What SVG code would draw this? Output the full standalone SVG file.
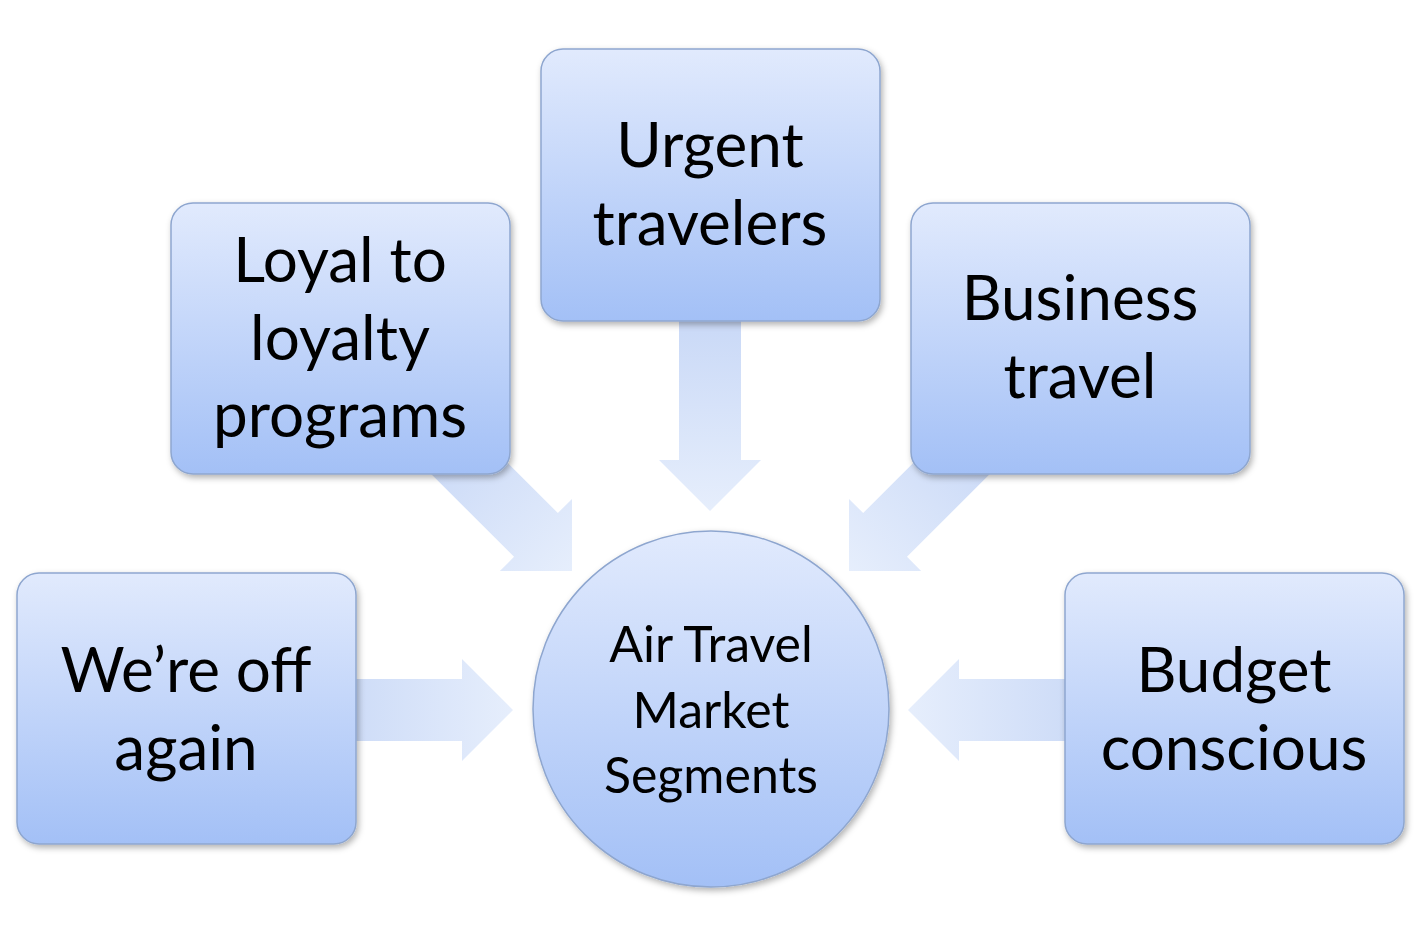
<svg xmlns="http://www.w3.org/2000/svg" width="1426" height="937" viewBox="0 0 1426 937">
<defs>
<linearGradient id="bg" x1="0" y1="0" x2="0" y2="1"><stop offset="0" stop-color="#e1eafd"/><stop offset="1" stop-color="#a3c0f6"/></linearGradient>
<linearGradient id="ag" gradientUnits="userSpaceOnUse" x1="-180" y1="0" x2="0" y2="0"><stop offset="0" stop-color="#cbdaf7"/><stop offset="1" stop-color="#e6eefc"/></linearGradient>
<filter id="sh" x="-10%" y="-10%" width="130%" height="130%"><feDropShadow dx="2" dy="3" stdDeviation="3" flood-color="#000" flood-opacity="0.3"/></filter>
<path id="arr" d="M0,0 L-51,-51 L-51,-31 L-200,-31 L-200,31 L-51,31 L-51,51 Z"/>
</defs>
<style>
.box{fill:url(#bg);stroke:#8ea6cf;stroke-width:1.5;filter:url(#sh)}
.a{fill:url(#ag)}
text{font-family:Lato,"Open Sans",sans-serif;font-size:62px;fill:#000;text-anchor:middle}
.c{font-size:50px}
</style>
<rect width="1426" height="937" fill="#fff"/>
<g id="connectors">
<use href="#arr" class="a" transform="translate(710,511) rotate(90)"/>
<use href="#arr" class="a" transform="translate(572,571) rotate(45)"/>
<use href="#arr" class="a" transform="translate(849,571) rotate(135)"/>
<use href="#arr" class="a" transform="translate(513,710)"/>
<use href="#arr" class="a" transform="translate(908,710) rotate(180)"/>
</g>
<g id="urgent"><rect class="box" x="541" y="49" width="339" height="272" rx="22"/><text x="710" y="167">Urgent</text><text x="710" y="245">travelers</text></g>
<g id="loyal"><rect class="box" x="171" y="203" width="339" height="271" rx="22"/><text x="340" y="282">Loyal to</text><text x="340" y="360">loyalty</text><text x="340" y="437">programs</text></g>
<g id="business"><rect class="box" x="911" y="203" width="339" height="271" rx="22"/><text x="1080" y="320">Business</text><text x="1080" y="398">travel</text></g>
<g id="wereoff"><rect class="box" x="17" y="573" width="339" height="271" rx="22"/><text x="186" y="692">We’re off</text><text x="186" y="770">again</text></g>
<g id="budget"><rect class="box" x="1065" y="573" width="339" height="271" rx="22"/><text x="1234" y="692">Budget</text><text x="1234" y="770">conscious</text></g>
<g id="center"><circle class="box" cx="711" cy="709" r="178"/><text class="c" x="711" y="662">Air Travel</text><text class="c" x="711" y="728">Market</text><text class="c" x="711" y="793">Segments</text></g>
</svg>
